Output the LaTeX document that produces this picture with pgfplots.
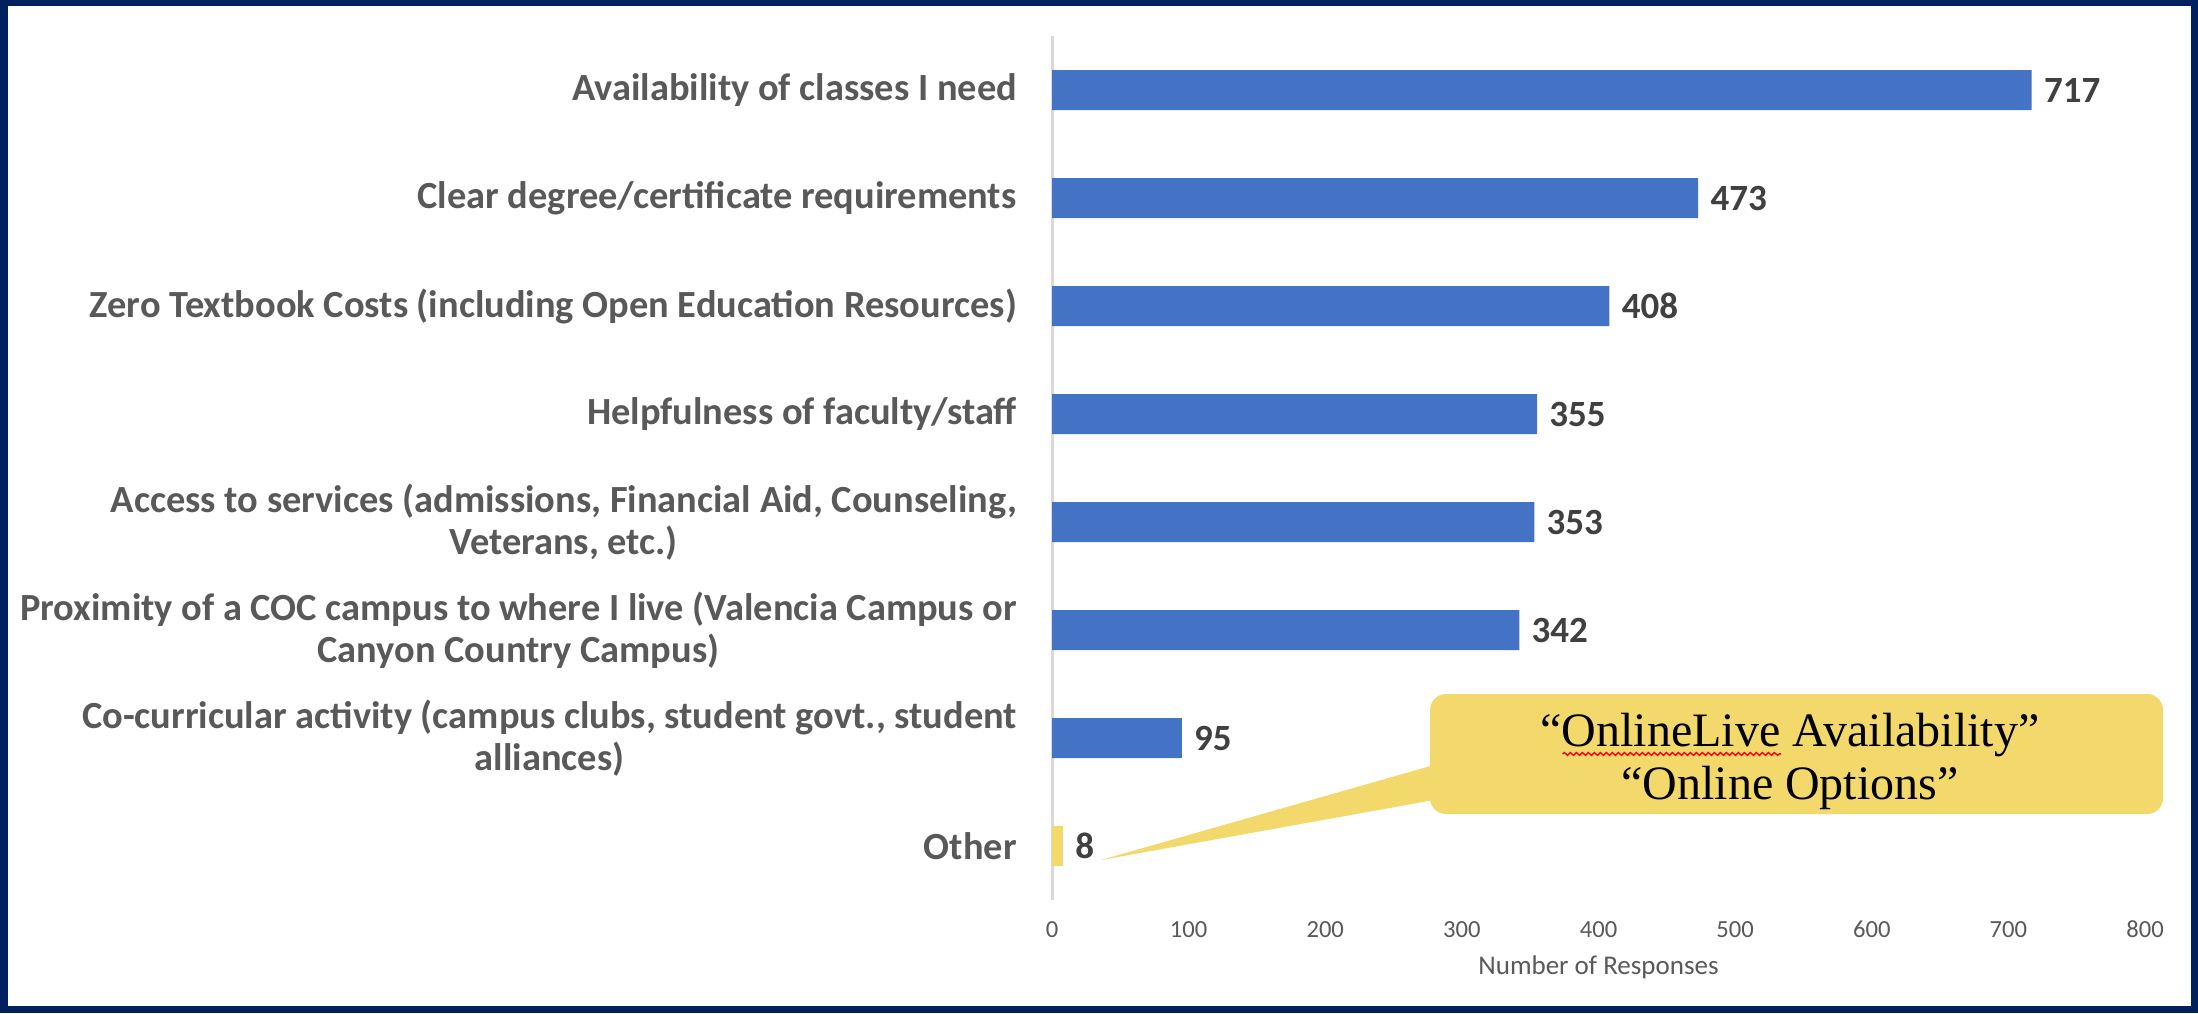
\documentclass[border=0pt]{standalone}
\usepackage{pgfplots}
\pgfplotsset{compat=1.18}
\usetikzlibrary{decorations.pathmorphing}
\usepackage{fontspec}
\setmainfont{Carlito}
\newfontfamily\tnr{Liberation Serif}
\definecolor{navy}{HTML}{002060}
\definecolor{barblue}{HTML}{4472C4}
\definecolor{baryellow}{HTML}{F3D86B}
\definecolor{lblgray}{HTML}{595959}
\definecolor{valgray}{HTML}{404040}
\definecolor{axgray}{HTML}{D9D9D9}
\newsavebox\wbox
\newcommand\wavy[1]{\sbox\wbox{#1}\makebox[0pt][l]{\raisebox{-5pt}[0pt][0pt]{\tikz\draw[red, line width=0.7pt, decorate, decoration={snake, amplitude=0.7pt, segment length=3pt}] (0,0) -- (\wd\wbox,0);}}\usebox\wbox}
\begin{document}
\begin{tikzpicture}
\useasboundingbox (0,0) rectangle (1099pt,506.5pt);
\fill[navy] (0,0) rectangle (1099pt,506.5pt);
\fill[white] (4pt,3.5pt) rectangle (1095.5pt,503.5pt);
\begin{axis}[
  at={(526pt,56.5pt)}, anchor=south west,
  scale only axis, width=546.5pt, height=432pt,
  xbar, bar width=20pt,
  xmin=0, xmax=800, ymin=-0.5, ymax=7.5,
  enlargelimits=false, clip=false,
  axis lines*=left,
  x axis line style={draw=none},
  y axis line style={draw=axgray, line width=1.5pt},
  major tick length=0pt,
  xtick={0,100,...,800},
  ytick={0,1,2,3,4,5,6,7},
  yticklabels={Other,
    {Co-curricular activity (campus clubs, student govt., student\\alliances)},
    {Proximity of a COC campus to where I live (Valencia Campus or\\Canyon Country Campus)},
    {Access to services (admissions, Financial Aid, Counseling,\\Veterans, etc.)},
    {Helpfulness of faculty/staff},
    {Zero Textbook Costs (including Open Education Resources)},
    {Clear degree/certificate requirements},
    {Availability of classes I need}},
  yticklabel style={anchor=east, inner sep=0pt, xshift=-17.4pt, align=center,
    font=\fontsize{19.2}{21}\selectfont\bfseries, text=lblgray},
  xticklabel style={anchor=base, inner sep=0pt, yshift=-18.5pt,
    font=\fontsize{12.3}{14}\selectfont, text=lblgray},
  /pgf/number format/assume math mode=true,
  xlabel={Number of Responses},
  xlabel style={at={(axis description cs:0.5,0)}, anchor=center, inner sep=0pt,
    yshift=-33.5pt, font=\fontsize{13.5}{15}\selectfont, text=lblgray},
  nodes near coords,
  nodes near coords style={anchor=west, xshift=6pt, inner sep=0pt,
    font=\fontsize{18.5}{21}\selectfont\bfseries, text=valgray},
]
\addplot[fill=barblue, draw=none, bar shift=0pt] coordinates {
  (717,7) (473,6) (408,5) (355,4) (353,3) (342,2) (95,1)};
\addplot[fill=baryellow, draw=none, bar shift=0pt] coordinates {(8,0)};
\end{axis}
% callout annotation
\fill[baryellow, rounded corners=8pt] (715pt,99.5pt) rectangle (1081.5pt,159.5pt);
\fill[baryellow] (717pt,124pt) -- (550.5pt,76.5pt) -- (717pt,106.5pt) -- cycle;
\node[align=center, inner sep=0pt, font=\tnr\fontsize{24}{26.5}\selectfont, text=black]
  at (895pt,126pt) {“\wavy{OnlineLive} Availability”\\“Online Options”};
\end{tikzpicture}
\end{document}
